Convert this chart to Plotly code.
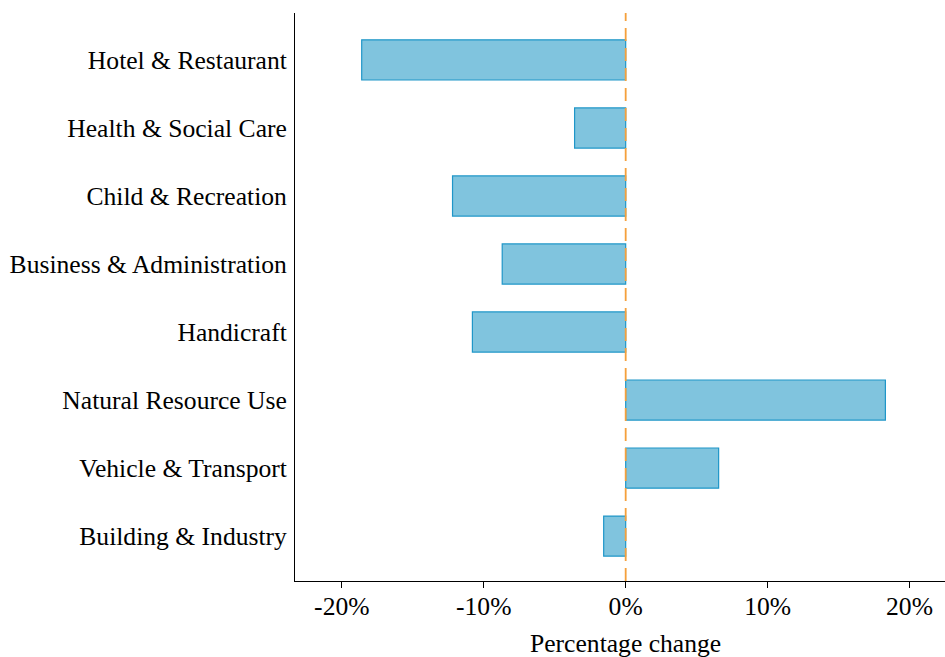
import plotly.graph_objects as go

categories = ["Building & Industry", "Vehicle & Transport", "Natural Resource Use",
              "Handicraft", "Business & Administration", "Child & Recreation",
              "Health & Social Care", "Hotel & Restaurant"]
pct_change = [-1.55, 6.55, 18.3, -10.8, -8.7, -12.2, -3.6, -18.6]
tick_vals = [-20, -10, 0, 10, 20]
tick_text = ["-20%", "-10%", "0%", "10%", "20%"]
x_title = "Percentage change"

fig = go.Figure()
fig.add_trace(go.Bar(
    y=categories, x=pct_change, orientation="h", width=0.59,
    marker=dict(color="#80c4de", line=dict(color="#1f96c8", width=1.2)),
    showlegend=False,
))
fig.add_shape(type="line", xref="x", yref="paper", x0=0, x1=0, y0=0, y1=1,
              line=dict(color="#f5a03c", width=1.8, dash="13px,7px"), layer="above")

font = dict(family="Liberation Serif, Times New Roman, serif", size=25.6, color="black")
fig.add_annotation(text=x_title, xref="x", x=0, yref="paper", y=0, yshift=-62,
                   xanchor="center", yanchor="middle", showarrow=False, font=font)
fig.update_layout(
    width=945, height=657,
    margin=dict(l=295, r=0, t=13, b=76),
    plot_bgcolor="white", paper_bgcolor="white",
    font=font,
    xaxis=dict(range=[-23.3, 22.5], tickvals=tick_vals, ticktext=tick_text,
               showgrid=False, zeroline=False, showline=True, linecolor="black",
               linewidth=1, ticks="outside", ticklen=6, tickcolor="black",
               ticklabelstandoff=-4, tickfont=font),
    yaxis=dict(range=[-0.66, 7.69], showgrid=False, zeroline=False, showline=True,
               linecolor="black", linewidth=1, ticks="", ticklabelstandoff=2,
               categoryorder="array", categoryarray=categories, tickfont=font),
)
fig.write_html("out.html", config={"displayModeBar": False},
               post_script="document.body.style.margin='0';document.body.style.overflow='hidden';")
